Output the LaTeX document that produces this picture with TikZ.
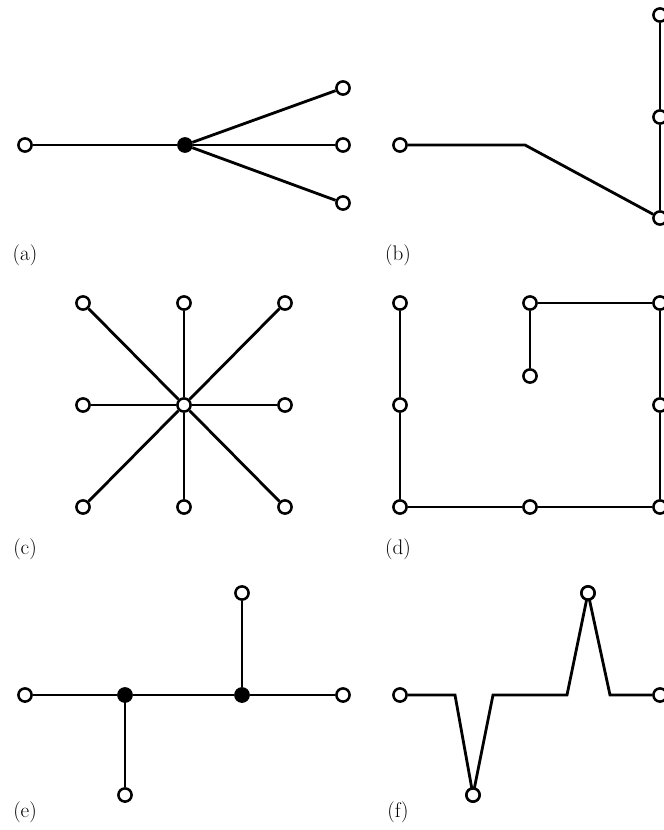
\documentclass[tikz,border=0pt]{standalone}
\usepackage{tikz}
\usetikzlibrary{positioning}

\begin{document}
\begin{tikzpicture}[
			x=0.025cm, y=-0.025cm,
			opennode/.style={draw, circle, line width=1.8pt, fill=white, inner sep=0pt, minimum size=0.33cm},
			solidnode/.style={draw, circle, line width=1.8pt, fill=black, inner sep=0pt, minimum size=0.33cm},
			link/.style={line width=2pt, line join=miter},
			caption/.style={font=\fontsize{15}{17}\selectfont, anchor=center}
			]
			\useasboundingbox (0,0) rectangle (664,830);
			
			% (a)
			\node[opennode] (a1) at (25,145) {};
			\node[solidnode] (a0) at (185,145) {};
			\node[opennode] (a2) at (343,88) {};
			\node[opennode] (a3) at (343,145) {};
			\node[opennode] (a4) at (343,203) {};
			\draw[link] (a1) -- (a0);
			\draw[link] (a0) -- (a2);
			\draw[link] (a0) -- (a3);
			\draw[link] (a0) -- (a4);
			\node[caption] (capa) at (25,255) {(a)};
			
			% (b)
			\node[opennode] (b1) at (400,145) {};
			\coordinate (bk) at (525,145);
			\node[opennode] (b2) at (660,218) {};
			\node[opennode] (b3) at (660,117) {};
			\node[opennode] (b4) at (660,15) {};
			\draw[link] (b1) -- (bk) -- (b2);
			\draw[link] (b2) -- (b3);
			\draw[link] (b3) -- (b4);
			\node[caption] (capb) at (398,255) {(b)};
			
			% (c)
			\node[opennode] (c0) at (184,405) {};
			\node[opennode] (c1) at (83,303) {};
			\node[opennode] (c2) at (184,303) {};
			\node[opennode] (c3) at (285,303) {};
			\node[opennode] (c4) at (83,405) {};
			\node[opennode] (c5) at (285,405) {};
			\node[opennode] (c6) at (83,507) {};
			\node[opennode] (c7) at (184,507) {};
			\node[opennode] (c8) at (285,507) {};
			\draw[link] (c0) -- (c1);
			\draw[link] (c0) -- (c2);
			\draw[link] (c0) -- (c3);
			\draw[link] (c0) -- (c4);
			\draw[link] (c0) -- (c5);
			\draw[link] (c0) -- (c6);
			\draw[link] (c0) -- (c7);
			\draw[link] (c0) -- (c8);
			\node[caption] (capc) at (25,549) {(c)};
			
			% (d)
			\node[opennode] (d1) at (400,303) {};
			\node[opennode] (d2) at (400,405) {};
			\node[opennode] (d3) at (400,507) {};
			\node[opennode] (d4) at (530,507) {};
			\node[opennode] (d5) at (660,507) {};
			\node[opennode] (d6) at (660,405) {};
			\node[opennode] (d7) at (660,303) {};
			\node[opennode] (d8) at (530,303) {};
			\node[opennode] (d9) at (530,376) {};
			\draw[link] (d1) -- (d2);
			\draw[link] (d2) -- (d3);
			\draw[link] (d3) -- (d4);
			\draw[link] (d4) -- (d5);
			\draw[link] (d5) -- (d6);
			\draw[link] (d6) -- (d7);
			\draw[link] (d7) -- (d8);
			\draw[link] (d8) -- (d9);
			\node[caption] (capd) at (398,549) {(d)};
			
			% (e)
			\node[opennode] (e1) at (25,695) {};
			\node[solidnode] (e2) at (125,695) {};
			\node[solidnode] (e3) at (242,695) {};
			\node[opennode] (e4) at (343,695) {};
			\node[opennode] (e5) at (242,593) {};
			\node[opennode] (e6) at (125,795) {};
			\draw[link] (e1) -- (e2);
			\draw[link] (e2) -- (e3);
			\draw[link] (e3) -- (e4);
			\draw[link] (e3) -- (e5);
			\draw[link] (e2) -- (e6);
			\node[caption] (cape) at (25,812) {(e)};
			
			% (f)
			\node[opennode] (f1) at (400,695) {};
			\node[opennode] (f2) at (473,795) {};
			\node[opennode] (f3) at (588,593) {};
			\node[opennode] (f4) at (660,695) {};
			\coordinate (fa) at (455,695);
			\coordinate (fb) at (493,695);
			\coordinate (fc) at (567,695);
			\coordinate (fd) at (610,695);
			\draw[link] (f1) -- (fa) -- (f2.center) -- (fb) -- (fc) -- (f3.center) -- (fd) -- (f4);
			\node[opennode] at (f2) {};
			\node[opennode] at (f3) {};
			\node[caption] (capf) at (398,812) {(f)};
		\end{tikzpicture}
\end{document}
